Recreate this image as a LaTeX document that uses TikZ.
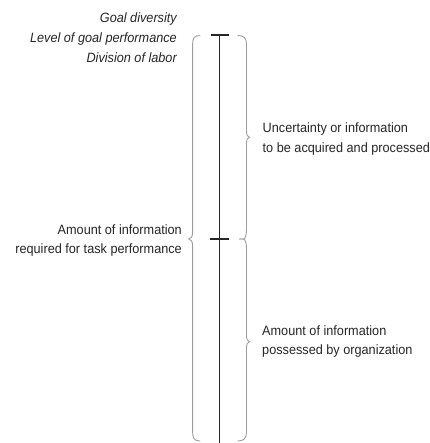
\documentclass[tikz,border=0pt]{standalone}
\usepackage{fontspec}
\newfontfamily\labfont[FakeStretch=0.94]{Liberation Sans}
\begin{document}
\begin{tikzpicture}[x=1pt,y=-1pt,
  lab/.style={inner sep=0pt,font=\labfont\fontsize{13.5}{19.7}\selectfont,text=black!85},
  labL/.style={lab,anchor=base east},
  labR/.style={lab,anchor=base west},
  itl/.style={font=\labfont\itshape\fontsize{13.5}{19.7}\selectfont},
  scaleline/.style={line width=1.3pt,black!85},
  tickmark/.style={line width=2pt,black!85},
  curly/.style={draw=black!38,line width=0.9pt,line cap=round}]
\useasboundingbox (0,0) rectangle (429,443);
\clip (0,0) rectangle (429,443);
% scale
\coordinate (top) at (219.7,35.5);
\coordinate (mid) at (219.7,239);
\coordinate (bot) at (219.7,450);
\coordinate (topL) at (210.5,35.5);
\coordinate (topR) at (229.3,35.5);
\coordinate (midL) at (210,239);
\coordinate (midR) at (229.3,239);
\draw[scaleline] (top) -- (bot);
\draw[tickmark] (topL) -- (topR);
\draw[tickmark] (midL) -- (midR);
% left brace
\coordinate (lbT) at (200,35.5);
\coordinate (lbM) at (188.8,239);
\coordinate (lbB) at (200,441);
\draw[curly] (lbT) .. controls (194.5,35.5) and (192.6,38) .. (192.6,44)
  -- (192.6,232) .. controls (192.6,236.5) and (191,239) .. (lbM)
  .. controls (191,239) and (192.6,241.5) .. (192.6,246)
  -- (192.6,432) .. controls (192.6,438.5) and (194.5,441) .. (lbB);
% right upper brace
\coordinate (rbT) at (237.8,35.5);
\coordinate (rbU) at (249.6,137.3);
\coordinate (rbM) at (239.5,239);
\draw[curly] (rbT) .. controls (243.5,35.5) and (246.5,38) .. (246.5,44)
  -- (246.5,131) .. controls (246.5,135) and (247.8,137.3) .. (rbU)
  .. controls (247.8,137.3) and (246.5,139.5) .. (246.5,143.5)
  -- (246.5,230) .. controls (246.5,235.5) and (245,239) .. (243.5,239) -- (rbM);
% right lower brace
\coordinate (rbL) at (249.6,341.7);
\coordinate (rbB) at (237.8,441);
\draw[curly] (rbM) -- (243.5,239) .. controls (245,239) and (246.5,242.5) .. (246.5,248)
  -- (246.5,335.5) .. controls (246.5,339.5) and (247.8,341.7) .. (rbL)
  .. controls (247.8,341.7) and (246.5,344) .. (246.5,348)
  -- (246.5,432) .. controls (246.5,438.5) and (243.5,441) .. (rbB);
% left labels
\node[labL,itl] (g1) at (177,23) {Goal diversity};
\node[labL,itl] (g2) at (177,42.7) {Level of goal performance};
\node[labL,itl] (g3) at (177,62.4) {Division of labor};
\node[labL] (a1) at (182,234) {Amount of information};
\node[labL] (a2) at (182,253.7) {required for task performance};
% right labels
\node[labR] (u1) at (262.5,132.7) {Uncertainty or information};
\node[labR] (u2) at (262.5,152.4) {to be acquired and processed};
\node[labR] (p1) at (262,335) {Amount of information};
\node[labR] (p2) at (262,354.7) {possessed by organization};
\end{tikzpicture}
\end{document}
